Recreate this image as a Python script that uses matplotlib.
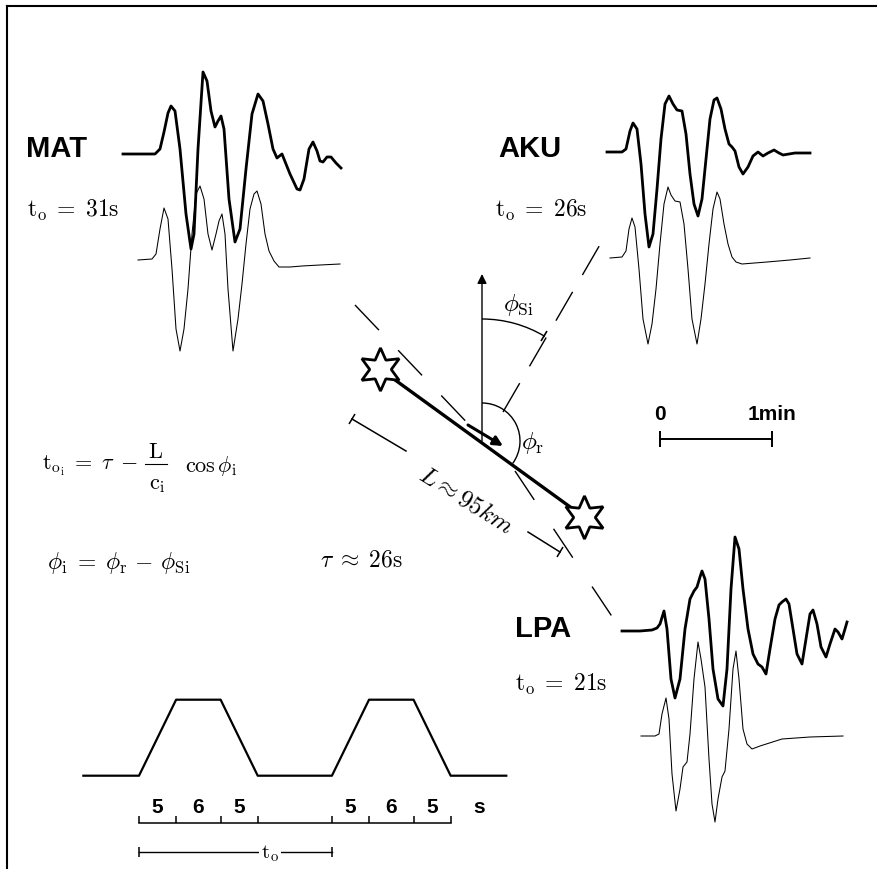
import numpy as np
import matplotlib.pyplot as plt
from matplotlib.patches import Arc
from matplotlib.markers import MarkerStyle
from matplotlib.transforms import Affine2D

plt.rcParams['mathtext.fontset'] = 'cm'
SANS = 'Liberation Sans'

# Seismogram traces:
# t = pixels from the start of the trace, a = pixels above its baseline
mat_obs_t = [0, 32, 37, 41, 45, 48, 52, 57, 63, 68, 71, 75, 80, 84, 88, 92, 95, 98, 101, 106, 112,
             117, 123, 129, 135, 140, 145, 150, 154, 159, 167, 174, 177, 181, 186, 190, 194, 197,
             200, 204, 208, 213, 218]
mat_obs_a = [0, 0, 5, 22, 41, 48, 43, 5, -60, -95, -80, 5, 82, 73, 43, 27, 33, 38, 25, -45, -88,
             -75, -15, 40, 60, 53, 30, 5, -4, 0, -20, -35, -36, -25, 5, 12, 3, -7,
             -8, -3, -3, -9, -14]
mat_syn_t = [0, 14, 18, 22, 26, 30, 34, 38, 42, 46, 50, 54, 58, 62, 66, 70, 74, 78, 81, 84, 87,
             90, 95, 100, 104, 108, 112, 116, 119, 123, 127, 131, 136, 141, 152, 164, 182, 202]
mat_syn_a = [0, 1, 6, 31, 52, 41, -9, -69, -91, -69, -29, 26, 66, 74, 61, 26, 10, 26, 39, 46, 26,
             -29, -91, -59, -24, 16, 51, 66, 69, 56, 26, 9, -1, -7, -7, -6, -5, -4]

aku_obs_t = [0, 15, 19, 23, 26, 30, 34, 38, 42, 46, 50, 54, 58, 62, 66, 70, 75, 79, 83, 87, 91,
             95, 99, 103, 107, 110, 114, 118, 122, 125, 128, 132, 136, 141, 146, 151, 156, 161,
             167, 172, 176, 188, 203]
aku_obs_a = [0, 0, 3, 21, 29, 23, -12, -62, -95, -82, -37, 13, 48, 56, 48, 42, 41, 18, -22, -52,
             -64, -47, -7, 33, 52, 54, 43, 23, 8, 5, 1, -15, -22, -15, -4, 0, -4, -1,
             2, -1, -3, -1, -1]
aku_syn_t = [0, 12, 16, 19, 22, 25, 29, 33, 38, 42, 46, 50, 54, 58, 61, 65, 70, 74, 78, 82, 87,
             91, 95, 99, 103, 107, 110, 114, 118, 122, 126, 132, 157, 180, 200]
aku_syn_a = [0, 1, 7, 29, 40, 31, -11, -61, -86, -66, -31, 14, 54, 71, 63, 57, 56, 34, -11, -61,
             -86, -61, -26, 14, 49, 66, 59, 34, 14, 1, -4, -6, -4, -2, 0]

lpa_obs_t = [0, 18, 30, 35, 38, 42, 45, 49, 53, 58, 63, 68, 72, 75, 78, 80, 83, 87, 91, 96, 101,
             105, 109, 113, 117, 121, 126, 131, 136, 140, 144, 148, 153, 157, 160, 164, 167, 171,
             175, 180, 184, 188, 191, 195, 199, 204, 208, 213, 216, 220, 223, 225]
lpa_obs_a = [0, 0, 1, 3, 7, 20, 2, -48, -67, -48, 2, 32, 40, 44, 54, 60, 52, 12, -38, -68, -75,
             -38, 42, 94, 82, 42, 2, -23, -33, -36, -43, -18, 12, 26, 29, 32, 27, 2,
             -23, -33, -8, 17, 21, 7, -16, -26, -13, 2, -1, -8, 2, 9]
lpa_syn_t = [0, 14, 18, 21, 25, 28, 31, 35, 39, 42, 46, 49, 53, 57, 60, 64, 68, 71, 74, 77, 81,
             84, 88, 92, 95, 98, 102, 106, 111, 119, 141, 169, 202]
lpa_syn_a = [0, 0, 2, 22, 38, 17, -38, -75, -53, -31, -26, 2, 57, 94, 77, 49, -23, -68, -86, -63,
             -41, -35, 7, 67, 85, 57, 7, -8, -13, -10, -3, -1, 0]

stations = ['MAT', 'AKU', 'LPA']
t0_values = ['31s', '26s', '21s']

# source time function (s) and its segment durations
stf_t = [-7.5, 0, 5, 11, 16, 26, 31, 37, 42, 49.5]
stf_level = [0, 0, 1, 1, 0, 0, 1, 1, 0, 0]
stf_ticks = [0, 5, 11, 16, 26, 31, 37, 42]
stf_tick_labels = ['5', '6', '5', None, '5', '6', '5']
t0_period = 26

# time scale bar (minutes)
scale_min = [0, 1]
scale_labels = ['0', '1min']

fig = plt.figure(figsize=(8.78, 8.70), dpi=100)
ax = fig.add_axes([0, 0, 1, 1])
ax.set_xlim(0, 878)
ax.set_ylim(870, 0)
ax.axis('off')

# frame (top and left only)
ax.plot([7, 878], [7, 7], color='k', lw=1.5)
ax.plot([7, 7], [7, 870], color='k', lw=1.5)

# traces: (observed, synthetic), placed at their left end / baseline
traces = [
    (mat_obs_t, mat_obs_a, (123, 155), mat_syn_t, mat_syn_a, (138, 261)),
    (aku_obs_t, aku_obs_a, (607, 153), aku_syn_t, aku_syn_a, (610, 259)),
    (lpa_obs_t, lpa_obs_a, (622, 632), lpa_syn_t, lpa_syn_a, (641, 737)),
]
for ot, oa, oo, st, sa, so in traces:
    tr = Affine2D().scale(1, -1).translate(*oo) + ax.transData
    ax.plot(ot, oa, color='k', lw=2.0, transform=tr, solid_joinstyle='round')
    tr = Affine2D().scale(1, -1).translate(*so) + ax.transData
    ax.plot(st, sa, color='k', lw=0.75, transform=tr, solid_joinstyle='round')

label_pos = [(26, 157), (498, 157), (515, 637)]
t0_pos = [(27, 210), (495, 210), (515, 684)]
for name, t0, (lx, ly), (tx, ty) in zip(stations, t0_values, label_pos, t0_pos):
    ax.text(lx, ly, name, family=SANS, fontweight='bold', fontsize=21, va='baseline')
    ax.text(tx, ty, r'$\mathrm{t_o}\; =\; \mathrm{%s}$' % t0, fontsize=17, va='center')

# station directions (dashed)
ax.plot([355, 476], [306, 433], color='k', lw=1.0, ls=(0, (25, 20)))
ax.plot([503, 605], [413, 237], color='k', lw=1.0, ls=(0, (24, 14)))
ax.plot([515, 617], [472, 625], color='k', lw=1.0, ls=(0, (25, 25)))

# rupture line between the two stars
star_x = [380, 584]
star_y = [370, 518]
ax.plot(star_x, star_y, color='k', lw=2.4)
ax.plot(star_x, star_y, ls='none', marker=(6, 1, 0), ms=31, mfc='white', mec='k', mew=2.0)

# north arrow and angles
cx, cy = 482, 442
ax.annotate('', xy=(cx, 275), xytext=(cx, cy),
            arrowprops=dict(arrowstyle='-|>', color='k', lw=1.0, mutation_scale=14,
                            shrinkA=0, shrinkB=0))
ax.annotate('', xy=(503, 447), xytext=(468, 426),
            arrowprops=dict(arrowstyle='-|>', color='k', lw=2.2, mutation_scale=14,
                            shrinkA=0, shrinkB=0))
ax.add_patch(Arc((cx, cy), 244, 244, theta1=-90, theta2=-59, color='k', lw=1.0))
ax.plot([544], [337], ls='none', color='k', mew=1.2, ms=8,
        marker=MarkerStyle('|', transform=Affine2D().rotate_deg(-31)))
ax.add_patch(Arc((cx, cy), 76, 76, theta1=-90, theta2=36, color='k', lw=1.0))
ax.text(518, 305, r'$\phi_{\mathrm{Si}}$', fontsize=18, ha='center', va='center')
ax.text(533, 443, r'$\phi_{\mathrm{r}}$', fontsize=18, ha='center', va='center')

# distance bar L
ax.plot([352, 406], [420, 452], color='k', lw=1.1)
ax.plot([528, 560], [533, 553], color='k', lw=1.1)
ax.plot([352, 560], [420, 553], ls='none', color='k', mew=1.1, ms=8,
        marker=MarkerStyle('|', transform=Affine2D().rotate_deg(-32.6)))
ax.text(466, 500, r'$L \approx 95km$', fontsize=18, rotation=-32, rotation_mode='anchor',
        ha='center', va='center')

# equations (the fraction is set as three pieces so it keeps full size)
ax.text(42, 466, r'$\mathrm{t_{o_i}}\; =\; \tau\; -$', fontsize=16, va='center')
ax.text(156, 452, r'$\mathrm{L}$', fontsize=16, ha='center', va='center')
ax.plot([145, 167], [465, 465], color='k', lw=0.8)
ax.text(157, 485, r'$\mathrm{c_i}$', fontsize=16, ha='center', va='center')
ax.text(185, 466, r'$\cos\phi_\mathrm{i}$', fontsize=16, va='center')
ax.text(47, 563, r'$\phi_\mathrm{i}\; =\; \phi_\mathrm{r}\, -\, \phi_\mathrm{Si}$',
        fontsize=17, va='center')
ax.text(320, 560, r'$\tau\; \approx\; \mathrm{26s}$', fontsize=17, va='center')

# time scale bar
sb = Affine2D().scale(112, 1).translate(660, 440) + ax.transData
ax.plot(scale_min, [0, 0], color='k', lw=1.4, transform=sb)
ax.plot(scale_min, [0, 0], ls='none', marker='|', ms=12, mew=1.4, color='k', transform=sb)
for m, lab in zip(scale_min, scale_labels):
    ax.text(m, -25, lab, transform=sb, family=SANS, fontweight='bold', fontsize=15,
            ha='center', va='center')

# source time function (seconds, unit amplitude)
sig = Affine2D().scale(7.42, -76).translate(139, 776.7) + ax.transData
ax.plot(stf_t, stf_level, color='k', lw=1.6, transform=sig)
ax.plot([stf_ticks[0], stf_ticks[-1]], [-0.62, -0.62], color='k', lw=1.1, transform=sig)
ax.plot(stf_ticks, [-0.62] * len(stf_ticks), ls='none', marker=2, ms=5, mew=1.1,
        color='k', transform=sig)
for a, b, lab in zip(stf_ticks[:-1], stf_ticks[1:], stf_tick_labels):
    if lab:
        ax.text((a + b) / 2, -0.40, lab, transform=sig, family=SANS, fontweight='bold',
                fontsize=15, ha='center', va='center')
ax.text(45.8, -0.40, 's', transform=sig, family=SANS, fontweight='bold', fontsize=15,
        ha='center', va='center')
ax.plot([0, t0_period], [-1.008, -1.008], color='k', lw=1.0, transform=sig)
ax.plot([0, t0_period], [-1.008, -1.008], ls='none', marker='|', ms=7, mew=1.1,
        color='k', transform=sig)
ax.text(17.6, -1.008, r'$\mathrm{t_o}$', transform=sig, fontsize=15, ha='center', va='center',
        bbox=dict(facecolor='white', edgecolor='none', pad=1.5))

fig.savefig('out.png', dpi=100, facecolor='white')
